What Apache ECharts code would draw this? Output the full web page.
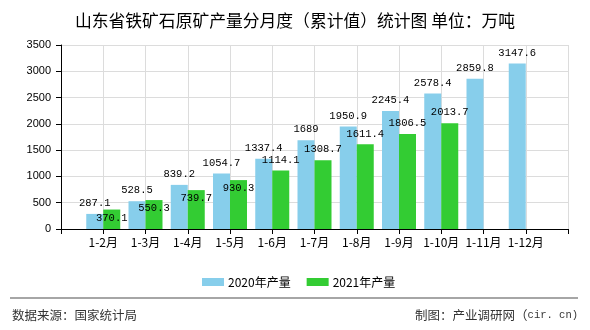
<!DOCTYPE html>
<html>
<head>
<meta charset="utf-8">
<script src="https://cdn.jsdelivr.net/npm/echarts@6/dist/echarts.min.js"></script>
<style>html,body{margin:0;padding:0;background:#fff}#c{width:590px;height:330px}</style>
</head>
<body>
<div id="c"></div>
<script>
var categories = ['1-2月','1-3月','1-4月','1-5月','1-6月','1-7月','1-8月','1-9月','1-10月','1-11月','1-12月'];
var values2020 = [287.1, 528.5, 839.2, 1054.7, 1337.4, 1689, 1950.9, 2245.4, 2578.4, 2859.8, 3147.6];
var values2021 = [370.1, 550.3, 739.7, 930.3, 1114.1, 1308.7, 1611.4, 1806.5, 2013.7];
var seriesNames = ['2020年产量', '2021年产量'];
var yTicks = [0, 500, 1000, 1500, 2000, 2500, 3000, 3500];

var cats = [''].concat(categories).concat(['']);
function pad(arr) {
  var out = [null];
  for (var i = 0; i < categories.length; i++) out.push(i < arr.length ? arr[i] : null);
  out.push(null);
  return out;
}
var d2020 = pad(values2020);
var d2021 = pad(values2021).map(function (v, i) {
  if (v == null) return null;
  var b = d2020[i];
  if (b != null && Math.abs(b - v) < 200) {
    return { value: v, label: { position: 'insideTop', distance: 3 } };
  }
  return v;
});

var labelFont = { fontFamily: 'Liberation Mono', fontSize: 10.5, color: '#000' };
var chart = echarts.init(document.getElementById('c'), null, { renderer: 'canvas' });
chart.setOption({
  animation: false,
  backgroundColor: '#fff',
  title: {
    text: '山东省铁矿石原矿产量分月度（累计值）统计图 单位：万吨',
    left: 'center', top: 7,
    textStyle: { fontFamily: 'Noto Sans CJK SC', fontSize: 16.8, fontWeight: 'normal', color: '#000' }
  },
  legend: {
    data: seriesNames, left: 197, top: 271,
    itemWidth: 22, itemHeight: 8, itemGap: 16, icon: 'rect',
    textStyle: { fontFamily: 'Noto Sans CJK SC', fontSize: 12, color: '#000', padding: [0,0,0,-1] }
  },
  grid: { left: 61, right: 22, top: 45, bottom: 101 },
  xAxis: {
    type: 'category', data: cats, boundaryGap: false,
    axisLine: { lineStyle: { color: '#000', width: 1 } },
    axisTick: { show: true, length: 5, lineStyle: { color: '#000' } },
    axisLabel: { interval: 0, margin: 7, fontFamily: 'Noto Sans CJK SC', fontSize: 12, color: '#000' },
    splitLine: { show: true, lineStyle: { color: '#dcdcdc', width: 1 } }
  },
  yAxis: {
    type: 'value', min: yTicks[0], max: yTicks[yTicks.length - 1], interval: 500,
    axisLine: { show: true, lineStyle: { color: '#000', width: 1 } },
    axisTick: { show: true, length: 5, lineStyle: { color: '#000' } },
    axisLabel: { margin: 10, fontFamily: 'Liberation Sans', fontSize: 11, color: '#000',
      formatter: function (v) { return String(v); } },
    splitLine: { show: true, lineStyle: { color: '#dcdcdc', width: 1 } }
  },
  series: [
    {
      name: seriesNames[0], type: 'bar', data: d2020, barWidth: 17, barGap: '0%',
      itemStyle: { color: '#87CEEB' },
      label: Object.assign({ show: true, position: 'top', distance: 5 }, labelFont)
    },
    {
      name: seriesNames[1], type: 'bar', data: d2021, barWidth: 17, barGap: '0%',
      itemStyle: { color: '#33CC33' },
      label: Object.assign({ show: true, position: 'top', distance: 5 }, labelFont)
    }
  ],
  graphic: [
    { type: 'line', shape: { x1: 10, y1: 298, x2: 578, y2: 298 }, style: { stroke: '#888', lineWidth: 1.5 } },
    { type: 'text', left: 12, top: 309, style: { text: '数据来源：国家统计局', fontFamily: 'Noto Sans CJK SC', fontSize: 12.5, fill: '#333' } },
    { type: 'text', right: 12, top: 309, style: {
        text: '制图：产业调研网（{m|cir. cn)}',
        fontFamily: 'Noto Sans CJK SC', fontSize: 12.5, fill: '#333',
        rich: { m: { fontFamily: 'Liberation Mono', fontSize: 10.5, fill: '#333' } } } }
  ]
});
</script>
</body>
</html>
